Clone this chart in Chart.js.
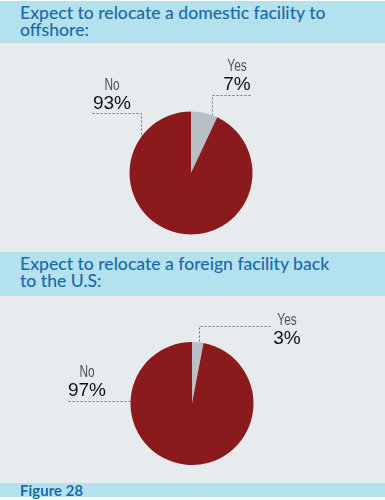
<!DOCTYPE html>
<html>
<head>
<meta charset="utf-8">
<script src="https://cdn.jsdelivr.net/npm/chart.js@4"></script>
<style>
  body { margin:0; background:#fff; }
  #wrap { position:relative; width:385px; height:500px; overflow:hidden; }
  .hdr { position:absolute; left:0; width:385px; background:#b3e1ee; color:#1b69a7;
         font-family:Lato, 'Open Sans', sans-serif; font-weight:500; font-size:17.6px; line-height:16.5px;
         box-sizing:border-box; padding:4px 0 0 20px; }
  .panel { position:absolute; left:0; width:385px; background:#e8ebee; }
  .panel canvas { position:absolute; left:0; top:0; }
  .fig { position:absolute; left:0; width:385px; top:483px; height:14px; background:#b3e1ee; color:#1b69a7;
         font-family:Lato, 'Open Sans', sans-serif; font-weight:700; font-size:15px; line-height:14px;
         box-sizing:border-box; padding-left:20px; }
</style>
</head>
<body>
<div id="wrap">
  <div class="hdr" style="top:1px;height:42px">Expect to relocate a domestic facility to<br>offshore:</div>
  <div class="panel" style="top:43px;height:209px"><canvas id="pie1" width="385" height="209"></canvas></div>
  <div class="hdr" style="top:252px;height:44px">Expect to relocate a foreign facility back<br>to the U.S:</div>
  <div class="panel" style="top:296px;height:187px"><canvas id="pie2" width="385" height="187"></canvas></div>
  <div class="fig">Figure 28</div>
</div>
<script>
// ===== DATA =====
const answers = ['Yes', 'No'];
const domesticToOffshore = [7, 93];
const foreignBackToUS = [3, 97];
const sliceColors = ['#b8bfc5', '#8a1a1c'];

// callout layout per slice: elbow relative to pie centre, run = horizontal line end (relative x),
// drop = how the dashed line reaches the pie ('v' down to rim, 'h' across to rim), text centre x + baselines
const callouts1 = [
  { elbow:[21,-78], run:59, drop:'v', tx:46, ty:-102 },
  { elbow:[-50,-60], run:-99, drop:'v', tx:-79, ty:-83 }
];
const callouts2 = [
  { elbow:[7,-78], run:78, drop:'v', tx:95, ty:-79 },
  { elbow:[-61,-3], run:-124, drop:'h', tx:-105, ty:-27 }
];

const calloutPlugin = {
  id:'callouts',
  afterDatasetsDraw(chart, args, opts) {
    const ctx = chart.ctx;
    const meta = chart.getDatasetMeta(0);
    const data = chart.data.datasets[0].data;
    opts.items.forEach((c, i) => {
      const arc = meta.data[i];
      const cx = arc.x, cy = arc.y, r = arc.outerRadius;
      const ex = cx + c.elbow[0], ey = cy + c.elbow[1];
      ctx.save();
      ctx.strokeStyle = '#6f7378';
      ctx.lineWidth = 1;
      ctx.setLineDash([2, 2]);
      ctx.beginPath();
      ctx.moveTo(Math.round(cx + c.run) + 0.5, Math.round(ey) + 0.5);
      ctx.lineTo(Math.round(ex) + 0.5, Math.round(ey) + 0.5);
      if (c.drop === 'v') {
        const dy = Math.sqrt(Math.max(r*r - c.elbow[0]*c.elbow[0], 0));
        ctx.lineTo(Math.round(ex) + 0.5, cy - dy);
      } else {
        const dx = Math.sqrt(Math.max(r*r - c.elbow[1]*c.elbow[1], 0));
        ctx.lineTo(cx - dx, Math.round(ey) + 0.5);
      }
      ctx.stroke();
      ctx.setLineDash([]);
      ctx.textAlign = 'center';
      ctx.textBaseline = 'alphabetic';
      // condensed answer label
      ctx.save();
      ctx.translate(cx + c.tx, cy + c.ty);
      ctx.scale(0.72, 1);
      ctx.fillStyle = '#505356';
      ctx.font = '16.5px "Liberation Sans", Arial, sans-serif';
      ctx.fillText(chart.data.labels[i], 0, 0);
      ctx.restore();
      ctx.fillStyle = '#111';
      ctx.font = '19px "Liberation Sans", Arial, sans-serif';
      ctx.fillText(data[i] + '%', cx + c.tx, cy + c.ty + 19);
      ctx.restore();
    });
  }
};

function makePie(id, values, callouts, pad) {
  new Chart(document.getElementById(id), {
    type:'pie',
    data:{ labels:answers, datasets:[{ data:values, backgroundColor:sliceColors, borderWidth:0 }] },
    options:{
      responsive:false,
      animation:false,
      layout:{ padding:pad },
      plugins:{ legend:{ display:false }, tooltip:{ enabled:false }, callouts:{ items:callouts } }
    },
    plugins:[calloutPlugin]
  });
}

makePie('pie1', domesticToOffshore, callouts1, { left:129.5, right:132.5, top:68.5, bottom:17.5 });
makePie('pie2', foreignBackToUS, callouts2, { left:130.5, right:131.5, top:46, bottom:18 });
</script>
</body>
</html>
